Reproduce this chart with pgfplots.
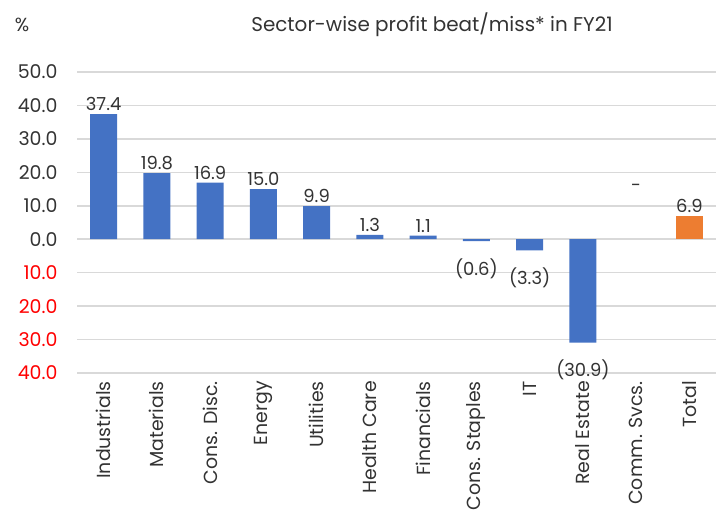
\documentclass[border=0pt]{standalone}
\usepackage{pgfplots}
\pgfplotsset{compat=1.18}
\usepackage{fontspec}
\setmainfont{Poppins}
\definecolor{barblue}{HTML}{4472C4}
\definecolor{barorange}{HTML}{ED7D31}
\definecolor{txt}{HTML}{333333}
\definecolor{gridc}{HTML}{D9D9D9}
\definecolor{negred}{HTML}{FF0000}
\begin{document}
\begin{tikzpicture}
\path[use as bounding box] (0,0) rectangle (716bp,518bp);
\begin{axis}[
  at={(77bp,145bp)}, anchor=south west,
  scale only axis, width=639bp, height=301bp,
  xmin=-0.5, xmax=11.5, ymin=-40, ymax=50,
  ytick={-40,-30,...,50},
  yticklabels={\textcolor{negred}{40.0},\textcolor{negred}{30.0},\textcolor{negred}{20.0},\textcolor{negred}{10.0},0.0,10.0,20.0,30.0,40.0,50.0},
  xtick={0,...,11},
  xticklabels={Industrials,Materials,Cons. Disc.,Energy,Utilities,Health Care,Financials,Cons. Staples,IT,Real Estate,Comm. Svcs.,Total},
  xticklabel style={rotate=90, anchor=east, font=\fontsize{19}{21}\selectfont, text=txt, xshift=-6bp, inner sep=2bp},
  yticklabel style={anchor=east, font=\fontsize{19}{21}\selectfont, text=txt, xshift=-16bp},
  /pgf/number format/assume math mode=true,
  major tick length=0pt,
  axis line style={draw=none},
  ymajorgrids, grid style={gridc, line width=1.5bp},
  ybar, bar width=27bp, bar shift=0pt,
  point meta=explicit symbolic,
  nodes near coords,
  every node near coord/.append style={font=\fontsize{18}{20}\selectfont, text=txt, inner sep=3bp},
  clip=false,
]
\addplot[fill=barblue, draw=none] coordinates {
  (0,37.4) [37.4] (1,19.8) [19.8] (2,16.9) [16.9] (3,15.0) [15.0]
  (4,9.9) [9.9] (5,1.3) [1.3] (6,1.1) [1.1]
};
\addplot[fill=barblue, draw=none, every node near coord/.append style={anchor=north, yshift=-14bp}] coordinates {
  (7,-0.6) [(0.6)] (8,-3.3) [(3.3)] (9,-30.9) [(30.9)]
};
\addplot[fill=barorange, draw=none] coordinates {(11,6.9) [6.9]};
\node[font=\fontsize{18}{20}\selectfont, text=txt] at (axis cs:10,15.3) {-};
\end{axis}
\node[font=\fontsize{20}{22}\selectfont, text=txt] at (432bp,493bp) {Sector-wise profit beat/miss* in FY21};
\node[font=\fontsize{19}{21}\selectfont, text=txt] at (22bp,493bp) {\%};
\end{tikzpicture}
\end{document}
